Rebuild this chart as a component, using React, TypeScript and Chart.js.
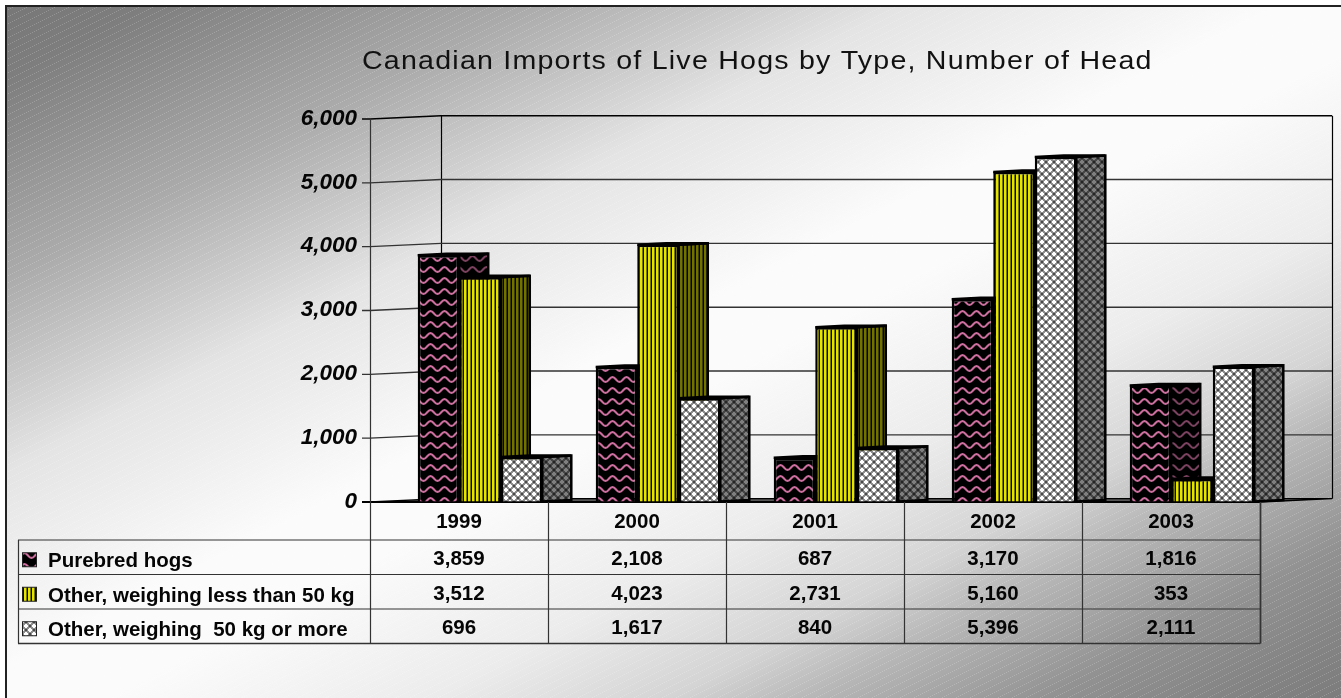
import React, { useEffect, useRef } from "react";
import { Chart, registerables } from "chart.js";

Chart.register(...registerables);

const title = "Canadian Imports of Live Hogs by Type, Number of Head";
const years = ["1999", "2000", "2001", "2002", "2003"];
const purebred = [3859, 2108, 687, 3170, 1816];
const lessThan50 = [3512, 4023, 2731, 5160, 353];
const moreThan50 = [696, 1617, 840, 5396, 2111];
const seriesNames = [
  "Purebred hogs",
  "Other, weighing less than 50 kg",
  "Other, weighing  50 kg or more",
];

const W = 1341;
const H = 698;
const FONT = "'Liberation Sans', Arial, sans-serif";

function tile(w: number, h: number, draw: (c: CanvasRenderingContext2D) => void, dark = 0) {
  const cv = document.createElement("canvas");
  cv.width = w;
  cv.height = h;
  const c = cv.getContext("2d")!;
  draw(c);
  if (dark > 0) {
    c.fillStyle = `rgba(0,0,0,${dark})`;
    c.fillRect(0, 0, w, h);
  }
  return c.createPattern(cv, "repeat")!;
}

const wave = (c: CanvasRenderingContext2D) => {
  c.fillStyle = "#000";
  c.fillRect(0, 0, 14, 11);
  c.strokeStyle = "#cc6e9e";
  c.lineWidth = 2.1;
  c.beginPath();
  for (let x = -1; x <= 15; x += 0.5) {
    const y = 5.5 + 2.4 * Math.sin((2 * Math.PI * x) / 14);
    if (x === -1) c.moveTo(x, y);
    else c.lineTo(x, y);
  }
  c.stroke();
};
const stripes = (c: CanvasRenderingContext2D) => {
  c.fillStyle = "#0c0c00";
  c.fillRect(0, 0, 4, 1);
  c.fillStyle = "#e4e400";
  c.fillRect(0, 0, 2.5, 1);
};
const lattice = (c: CanvasRenderingContext2D) => {
  c.fillStyle = "#8c8c8c";
  c.fillRect(0, 0, 8, 8);
  c.fillStyle = "#fff";
  c.fillRect(0, 1, 4, 2);
  c.fillRect(1, 0, 2, 4);
  c.fillRect(4, 5, 4, 2);
  c.fillRect(5, 4, 2, 4);
  c.fillStyle = "#4a4a4a";
  c.fillRect(5, 1, 2, 2);
  c.fillRect(1, 5, 2, 2);
};

const backgroundPlugin = {
  id: "background",
  beforeDraw(chart: any) {
    const c: CanvasRenderingContext2D = chart.ctx;
    c.save();
    c.fillStyle = "#fff";
    c.fillRect(0, 0, W, H);
    const k = (2 * W * H) / (W * W + H * H);
    const g = c.createLinearGradient(0, 0, k * H, k * W);
    const stops: [number, string][] = [
      [0, "#767676"],
      [0.06, "#7e7e7e"],
      [0.16, "#9e9e9e"],
      [0.2, "#aaaaaa"],
      [0.23, "#b6b6b6"],
      [0.34, "#e4e4e4"],
      [0.48, "#fbfbfb"],
      [0.54, "#fbfbfb"],
      [0.66, "#ececec"],
      [0.75, "#d4d4d4"],
      [0.8, "#b8b8b8"],
      [0.89, "#929292"],
      [0.95, "#858585"],
      [1, "#7c7c7c"],
    ];
    stops.forEach(([t, col]) => g.addColorStop(t, col));
    c.fillStyle = g;
    c.fillRect(7, 7, W, H);
    const dots = tile(14, 7, (p) => {
      p.fillStyle = "rgba(255,255,255,0.2)";
      for (let i = 0; i < 7; i++) p.fillRect(i * 2, 6 - i, 1, 1);
    });
    c.fillStyle = dots;
    c.fillRect(7, 7, W, H);
    c.strokeStyle = "#222";
    c.lineWidth = 2;
    c.strokeRect(6, 6, W + 10, H + 10);
    c.fillStyle = "#111";
    c.font = `26px ${FONT}`;
    c.textBaseline = "alphabetic";
    c.textAlign = "left";
    c.translate(362, 69);
    c.scale(1.1, 1);
    (c as any).letterSpacing = "1.1px";
    c.fillText(title, 0, 0);
    (c as any).letterSpacing = "0px";
    c.restore();
  },
};

const wallPlugin = {
  id: "wall",
  beforeDatasetsDraw(chart: any) {
    const c: CanvasRenderingContext2D = chart.ctx;
    const y = chart.scales.y;
    const front = 370;
    const back = 441;
    const right = 1332;
    const tableRight = 1260;
    const rise = 3.3;
    c.save();
    const top = y.getPixelForValue(6000) + 0.5;
    const zero = y.getPixelForValue(0) + 0.5;
    // walls
    c.strokeStyle = "#000";
    c.lineWidth = 1.2;
    c.beginPath();
    c.moveTo(back + 0.5, top - rise);
    c.lineTo(back + 0.5, zero - rise);
    c.moveTo(right + 0.5, top - rise);
    c.lineTo(right + 0.5, zero - rise);
    c.stroke();
    // grid lines
    y.ticks.forEach((t: any) => {
      const py = y.getPixelForValue(t.value) + 0.5;
      if (t.value === 0) return;
      c.strokeStyle = t.value === 6000 ? "#000" : "#333";
      c.lineWidth = t.value === 6000 ? 1.6 : 1.4;
      c.beginPath();
      c.moveTo(front - 8, py);
      c.lineTo(front, py);
      c.lineTo(back, py - rise);
      c.lineTo(right, py - rise);
      c.stroke();
    });
    // floor
    c.beginPath();
    c.moveTo(front, zero);
    c.lineTo(back, zero - rise);
    c.lineTo(right, zero - rise);
    c.lineTo(tableRight, zero);
    c.closePath();
    c.fillStyle = "#555";
    c.fill();
    c.strokeStyle = "#000";
    c.lineWidth = 1.3;
    c.stroke();
    c.beginPath();
    c.moveTo(front - 8, zero);
    c.lineTo(tableRight, zero);
    c.lineWidth = 2;
    c.stroke();
    // sides and fronts, first series first so that later ones overlap it
    const depth = 29;
    const lift = 1.5;
    chart.data.datasets.forEach((ds: any, di: number) => {
      const meta = chart.getDatasetMeta(di);
      meta.data.forEach((bar: any) => {
        const p = bar.getProps(["x", "y", "base", "width"], true);
        const l = p.x - p.width / 2;
        const r = p.x + p.width / 2;
        c.beginPath();
        c.moveTo(r, p.y);
        c.lineTo(r + depth, p.y - lift);
        c.lineTo(r + depth, p.base - lift);
        c.lineTo(r, p.base);
        c.closePath();
        c.fillStyle = ds.sidePattern;
        c.fill();
        c.strokeStyle = "#000";
        c.lineWidth = 2.5;
        c.lineJoin = "miter";
        c.stroke();
        c.beginPath();
        c.moveTo(l, p.y);
        c.lineTo(l + depth, p.y - lift);
        c.lineTo(r + depth, p.y - lift);
        c.lineTo(r, p.y);
        c.closePath();
        c.fillStyle = "#000";
        c.fill();
        c.stroke();
      });
      meta.controller.draw();
    });
    c.restore();
    return false;
  },
};

const tablePlugin = {
  id: "table",
  afterDraw(chart: any) {
    const c: CanvasRenderingContext2D = chart.ctx;
    const xs = chart.scales.x;
    const shift = 21;
    const cell = 178;
    const rows = [540, 574.5, 609, 643.5];
    const left = 18;
    const first = xs.getPixelForTick(0) - shift - cell / 2;
    const last = first + cell * years.length;
    c.save();
    c.strokeStyle = "#333";
    c.lineWidth = 1;
    rows.forEach((r, i) => {
      c.lineWidth = i === 3 ? 1.6 : 1.2;
      c.beginPath();
      c.moveTo(left, r);
      c.lineTo(last, r);
      c.stroke();
    });
    c.lineWidth = 1.2;
    c.beginPath();
    c.moveTo(left + 0.5, rows[0]);
    c.lineTo(left + 0.5, rows[3]);
    c.moveTo(first + 0.5, chart.scales.y.top);
    c.lineTo(first + 0.5, rows[3]);
    for (let i = 1; i <= years.length; i++) {
      c.moveTo(first + i * cell + 0.5, 502);
      c.lineTo(first + i * cell + 0.5, rows[3]);
    }
    c.stroke();
    c.beginPath();
    c.lineWidth = 1.6;
    c.moveTo(last + 0.5, 502);
    c.lineTo(last + 0.5, rows[3]);
    c.stroke();
    c.font = `bold 20.5px ${FONT}`;
    c.textBaseline = "alphabetic";
    chart.data.datasets.forEach((ds: any, di: number) => {
      const cy = (rows[di] + rows[di + 1]) / 2;
      c.fillStyle = ds.backgroundColor;
      c.fillRect(22.5, cy - 4.5, 14, 14);
      c.strokeStyle = "#222";
      c.lineWidth = 1;
      c.strokeRect(22.5, cy - 4.5, 14, 14);
      c.fillStyle = "#050505";
      c.textAlign = "left";
      c.fillText(seriesNames[di], 48, cy + 10);
      c.textAlign = "center";
      ds.data.forEach((v: number, i: number) => {
        c.fillText(v.toLocaleString("en-US"), xs.getPixelForTick(i) - shift, cy + 8);
      });
    });
    c.restore();
  },
};

export default function App() {
  const ref = useRef<HTMLCanvasElement>(null);
  useEffect(() => {
    document.body.style.margin = "0";
    const pink = tile(14, 11, wave);
    const yellow = tile(4, 1, stripes);
    const grey = tile(8, 8, lattice);
    const common = { borderColor: "#000", borderWidth: 2.5, categoryPercentage: 0.7, barPercentage: 1 };
    const chart = new Chart(ref.current!, {
      type: "bar",
      data: {
        labels: years,
        datasets: [
          { label: seriesNames[0], data: purebred, backgroundColor: pink, sidePattern: tile(14, 11, wave, 0.4), ...common },
          { label: seriesNames[1], data: lessThan50, backgroundColor: yellow, sidePattern: tile(4, 1, stripes, 0.5), ...common },
          { label: seriesNames[2], data: moreThan50, backgroundColor: grey, sidePattern: tile(8, 8, lattice, 0.5), ...common },
        ] as any,
      },
      options: {
        responsive: false,
        animation: false,
        devicePixelRatio: 1,
        layout: { padding: { top: 118.5, right: 60, bottom: 156.5, left: 0 } },
        plugins: { legend: { display: false }, title: { display: false }, tooltip: { enabled: false } },
        scales: {
          x: {
            grid: { display: false },
            border: { display: false },
            afterFit: (s: any) => {
              s.height = 40;
            },
            ticks: {
              color: "#050505",
              font: { family: FONT, size: 20.5, weight: "bold" },
              labelOffset: -21,
              padding: 1,
              maxRotation: 0,
              autoSkip: false,
            },
          },
          y: {
            min: 0,
            max: 6000,
            grid: { display: false },
            border: { display: false },
            afterFit: (s: any) => {
              s.width = 391;
            },
            ticks: {
              stepSize: 1000,
              color: "#050505",
              padding: 26,
              font: { family: FONT, size: 22.5, weight: "bold", style: "italic" },
              callback: (v: any) => Number(v).toLocaleString("en-US"),
            },
          },
        },
      },
      plugins: [backgroundPlugin, wallPlugin, tablePlugin],
    } as any);
    return () => chart.destroy();
  }, []);
  return <canvas ref={ref} width={W} height={H} style={{ display: "block" }} />;
}
